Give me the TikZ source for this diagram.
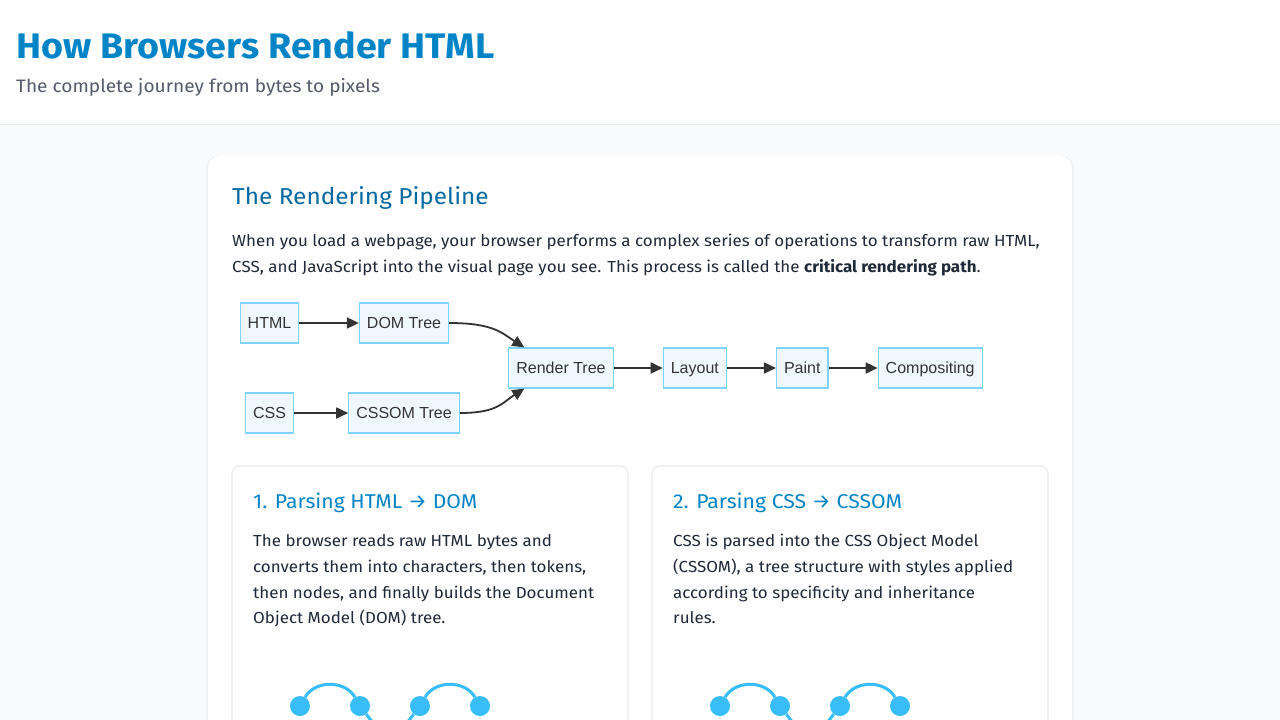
\documentclass[tikz,border=0pt]{standalone}
\usepackage{fontspec}
\setmainfont[FakeStretch=1.06]{Fira Sans}
\newfontfamily\nodefont{Liberation Sans}
\usetikzlibrary{arrows.meta,positioning}

\definecolor{pagebg}{RGB}{248,250,252}
\definecolor{lineclr}{RGB}{232,235,239}
\definecolor{titleblue}{RGB}{2,132,199}
\definecolor{headblue}{RGB}{3,105,161}
\definecolor{subgray}{RGB}{84,90,104}
\definecolor{textdark}{RGB}{31,41,55}
\definecolor{nodefill}{RGB}{240,248,255}
\definecolor{nodeborder}{RGB}{125,211,252}
\definecolor{arrowgray}{RGB}{51,51,51}
\definecolor{iconblue}{RGB}{56,189,248}

\tikzset{
  stage/.style={draw=nodeborder, fill=nodefill, line width=1.2pt,
    inner xsep=7.5pt, inner ysep=0pt, minimum height=40pt,
    text height=11.5pt, text depth=0pt, text=arrowgray,
    font=\nodefont\fontsize{16}{18}\selectfont},
  flow/.style={draw=arrowgray, line width=1.8pt,
    -{Triangle[length=12pt,width=11pt]}},
  txt/.style={anchor=base west, inner sep=0pt, text=textdark,
    font=\fontsize{16}{26}\selectfont},
  cardtitle/.style={anchor=base west, inner sep=0pt, text=titleblue,
    font=\fontsize{20}{24}\selectfont},
  dot/.style={circle, fill=iconblue, minimum size=20pt, inner sep=0pt},
  link/.style={draw=iconblue, line width=3pt}
}

\begin{document}
\begin{tikzpicture}[x=1pt, y=-1pt]
    \useasboundingbox (0,0) rectangle (1280,720);
    \clip (0,0) rectangle (1280,720);

    % Page and header
    \fill[pagebg] (0,0) rectangle (1280,720);
    \fill[white] (0,0) rectangle (1280,124);
    \draw[lineclr, line width=1.5pt] (0,124.5) -- (1280,124.5);
    \node[anchor=base west, inner sep=0pt, text=titleblue,
      font=\bfseries\fontsize{35.5}{40}\selectfont] (title) at (16,58) {How Browsers Render HTML};
    \node[anchor=base west, inner sep=0pt, text=subgray,
      font=\fontsize{18}{22}\selectfont] (subtitle) at (16,92) {The complete journey from bytes to pixels};

    % Main card
    \fill[black, opacity=0.04, rounded corners=12pt] (206,156) rectangle (1074,760);
    \fill[white, rounded corners=12pt] (208,156) rectangle (1072,760);
    \node[anchor=base west, inner sep=0pt, text=headblue,
      font=\fontsize{23}{28}\selectfont] (pipehead) at (232,204) {The Rendering Pipeline};
    \node[txt] (intro1) at (232,246) {When you load a webpage, your browser performs a complex series of operations to transform raw HTML,};
    \node[txt] (intro2) at (232,272) {CSS, and JavaScript into the visual page you see. This process is called the \textbf{critical rendering path}.};

    % Pipeline
    \node[stage] (html) at (269.5,323) {HTML};
    \node[stage] (dom) at (404,323) {DOM Tree};
    \node[stage] (css) at (269.5,413) {CSS};
    \node[stage] (cssom) at (404,413) {CSSOM Tree};
    \node[stage] (render) at (561,368) {Render Tree};
    \node[stage, right=49pt of render] (layout) {Layout};
    \node[stage, right=49pt of layout] (paint) {Paint};
    \node[stage, right=49pt of paint] (comp) {Compositing};

    \draw[flow] (html) -- (dom);
    \draw[flow] (css) -- (cssom);
    \draw[flow] (dom.east) .. controls +(45,0) and +(-22,-14) .. ([xshift=16pt]render.north west);
    \draw[flow] (cssom.east) .. controls +(38,0) and +(-22,14) .. ([xshift=16pt]render.south west);
    \draw[flow] (render) -- (layout);
    \draw[flow] (layout) -- (paint);
    \draw[flow] (paint) -- (comp);

    % Step cards
    \fill[white, rounded corners=8pt, draw=lineclr, line width=1.2pt] (232,466) rectangle (628,760);
    \fill[white, rounded corners=8pt, draw=lineclr, line width=1.2pt] (652,466) rectangle (1048,760);

    \node[cardtitle] (stepone) at (253,508) {1. Parsing HTML → DOM};
    \node[txt] (onea) at (253,546) {The browser reads raw HTML bytes and};
    \node[txt] (oneb) at (253,572) {converts them into characters, then tokens,};
    \node[txt] (onec) at (253,598) {then nodes, and finally builds the Document};
    \node[txt] (oned) at (253,623) {Object Model (DOM) tree.};

    \node[cardtitle] (steptwo) at (673,508) {2. Parsing CSS → CSSOM};
    \node[txt] (twoa) at (673,546) {CSS is parsed into the CSS Object Model};
    \node[txt] (twob) at (673,572) {(CSSOM), a tree structure with styles applied};
    \node[txt] (twoc) at (673,598) {according to specificity and inheritance};
    \node[txt] (twod) at (673,623) {rules.};

    % Tree icons
    \foreach \dx/\nm in {0/a, 420/b} {
      \begin{scope}[xshift=\dx pt]
        \coordinate (low\nm) at (390,745);
        \node[dot] (p\nm1) at (300,706) {};
        \node[dot] (p\nm2) at (360,706) {};
        \node[dot] (p\nm3) at (420,706) {};
        \node[dot] (p\nm4) at (480,706) {};
        \draw[link] (p\nm1) .. controls +(15,-26) and +(-15,-26) .. (p\nm2);
        \draw[link] (p\nm3) .. controls +(15,-26) and +(-15,-26) .. (p\nm4);
        \draw[link] (p\nm2) -- (low\nm);
        \draw[link] (p\nm3) -- (low\nm);
      \end{scope}
    }
\end{tikzpicture}
\end{document}
